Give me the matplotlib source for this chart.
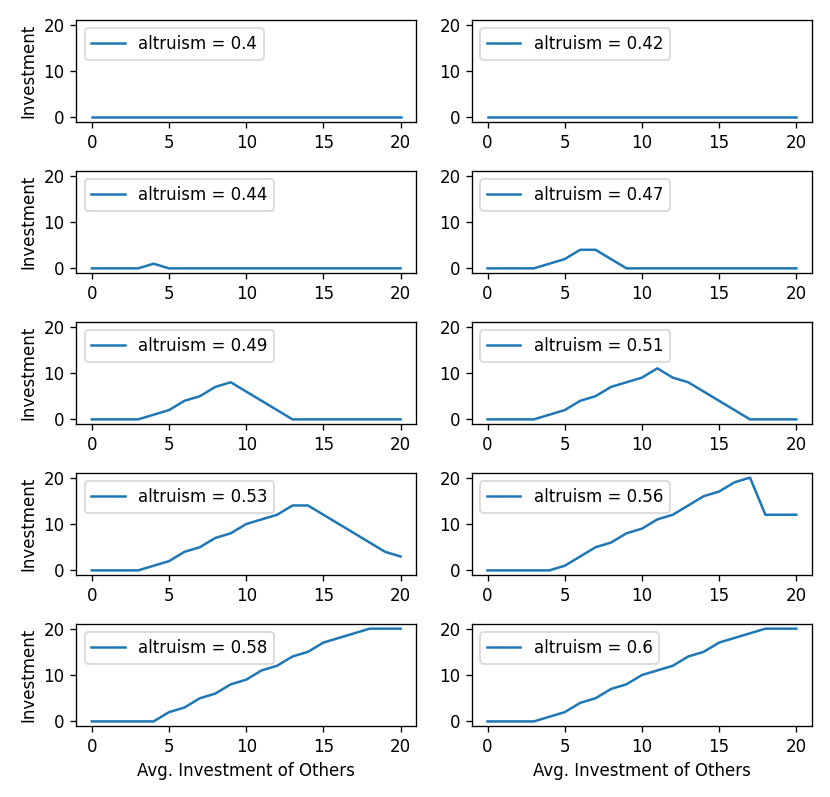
import numpy as np
import matplotlib.pyplot as plt

others = list(range(21))
altruism = [0.4, 0.42, 0.44, 0.47, 0.49, 0.51, 0.53, 0.56, 0.58, 0.6]

# investment, one list per altruism value
inv_040 = [0] * 21
inv_042 = [0] * 21
inv_044 = [0, 0, 0, 0, 1] + [0] * 16
inv_047 = [0, 0, 0, 0, 1, 2, 4, 4, 2] + [0] * 12
inv_049 = [0, 0, 0, 0, 1, 2, 4, 5, 7, 8, 6, 4, 2] + [0] * 8
inv_051 = [0, 0, 0, 0, 1, 2, 4, 5, 7, 8, 9, 11, 9, 8, 6, 4, 2, 0, 0, 0, 0]
inv_053 = [0, 0, 0, 0, 1, 2, 4, 5, 7, 8, 10, 11, 12, 14, 14, 12, 10, 8, 6, 4, 3]
inv_056 = [0, 0, 0, 0, 0, 1, 3, 5, 6, 8, 9, 11, 12, 14, 16, 17, 19, 20, 12, 12, 12]
inv_058 = [0, 0, 0, 0, 0, 2, 3, 5, 6, 8, 9, 11, 12, 14, 15, 17, 18, 19, 20, 20, 20]
inv_060 = [0, 0, 0, 0, 1, 2, 4, 5, 7, 8, 10, 11, 12, 14, 15, 17, 18, 19, 20, 20, 20]

series = [inv_040, inv_042, inv_044, inv_047, inv_049,
          inv_051, inv_053, inv_056, inv_058, inv_060]

fig, axes = plt.subplots(5, 2, figsize=(830 / 120, 797 / 120), dpi=120)
fig.subplots_adjust(left=0.092, right=0.978, top=0.975, bottom=0.089,
                    wspace=0.165, hspace=0.48)

for i, ax in enumerate(axes.flat):
    ax.plot(others, series[i], color='#1f77b4', label='altruism = ' + str(altruism[i]))
    ax.set_ylim(-1, 21)
    ax.set_xticks([0, 5, 10, 15, 20])
    ax.set_yticks([0, 10, 20])
    ax.legend(loc='upper left')
    if i % 2 == 0:
        ax.set_ylabel('Investment')
    if i >= 8:
        ax.set_xlabel('Avg. Investment of Others')

plt.savefig('out.png')
